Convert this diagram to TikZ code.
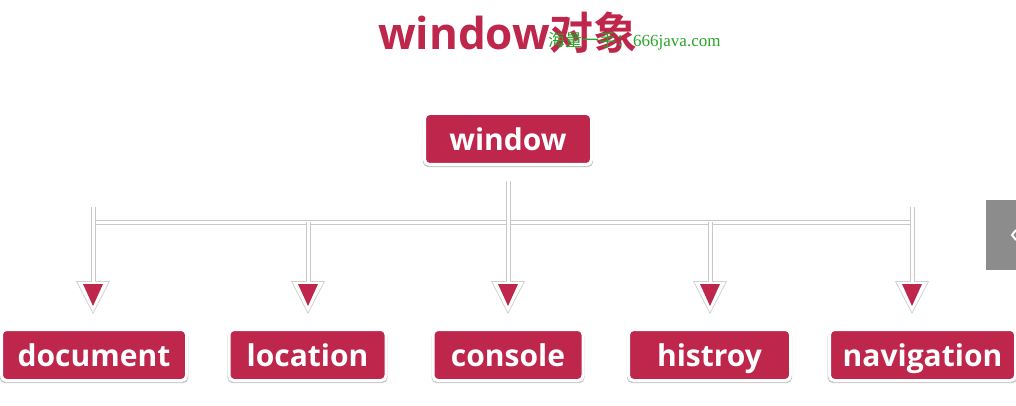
\documentclass[tikz,border=0pt]{standalone}
\usepackage{fontspec}
\setmainfont{Open Sans}
\newfontfamily\cjkfont{Noto Sans CJK SC}[BoldFont={Noto Sans CJK SC Bold}]
\newfontfamily\markfont{Liberation Serif}
\usetikzlibrary{arrows.meta, positioning, shadows}
\definecolor{winred}{RGB}{190,38,75}
\definecolor{railgray}{RGB}{200,200,200}
\definecolor{markgreen}{RGB}{40,165,40}
\definecolor{tabgray}{RGB}{140,140,140}

\begin{document}
\begin{tikzpicture}[
    x=1pt, y=-1pt,
    objbox/.style={rectangle, fill=winred, draw=white, line width=3pt, rounded corners=5pt,
        text=white, font=\fontsize{30}{32}\selectfont\bfseries, inner sep=0pt,
        minimum width=#1, minimum height=51pt, text height=23pt, text depth=0pt,
        drop shadow={shadow xshift=0pt, shadow yshift=-2pt, shadow scale=1.02, fill=black, opacity=0.22}},
    rail/.style={draw=railgray, line width=1pt, double=white, double distance=3pt},
    tipback/.style={draw=white, line width=3pt, shorten >=14pt,
        -{Triangle[width=34pt, length=33pt, fill=white, color=black!18, line width=0.8pt]}},
    tip/.style={draw=white, line width=3pt, shorten >=22pt,
        -{Triangle[width=20pt, length=22pt, fill=winred, color=winred, line width=0pt]}},
]
    \useasboundingbox (0,0) rectangle (1016,406);

    % title and mark
    \node[anchor=base, inner sep=0pt, text=winred, font=\fontsize{44}{44}\selectfont\bfseries] (title) at (508,50) {window{\cjkfont 对象}};
    \node[anchor=base west, inner sep=0pt, text=markgreen, font=\fontsize{17}{17}\selectfont] (mark) at (548,47) {{\cjkfont 海量一手：}\markfont 666java.com};

    % objects
    \node[objbox=167pt] (win) at (508,139) {window};
    \node[objbox=185pt] (doc) at (94,355) {document};
    \node[objbox=157pt] (loc) at (307.5,355) {location};
    \node[objbox=150pt] (con) at (508,355) {console};
    \node[objbox=162pt] (his) at (709.5,355) {histroy};
    \node[objbox=186pt] (nav) at (922.5,355) {navigation};

    % bus
    \coordinate (bus-1) at (93,222);
    \coordinate (bus-2) at (308,222);
    \coordinate (bus-3) at (508,222);
    \coordinate (bus-4) at (710,222);
    \coordinate (bus-5) at (912,222);
    \coordinate (cap-1) at (93,207);
    \coordinate (cap-5) at (912,207);

    \draw[rail] (bus-1) -- (bus-5);
    \draw[rail, shorten >=45pt] (cap-1) -- (cap-1 |- doc.north);
    \draw[rail, shorten >=45pt] (bus-2) -- (bus-2 |- loc.north);
    \draw[rail, shorten <=15pt, shorten >=45pt] (win.south) -- (win.south |- con.north);
    \draw[rail, shorten >=45pt] (bus-4) -- (bus-4 |- his.north);
    \draw[rail, shorten >=45pt] (cap-5) -- (cap-5 |- nav.north);

    \foreach \k/\obj in {1/doc, 2/loc, 3/con, 4/his, 5/nav} {
        \draw[tipback] (bus-\k) -- (bus-\k |- \obj.north);
        \draw[tip] (bus-\k) -- (bus-\k |- \obj.north);
    }

    % side tab
    \node[anchor=north west, fill=tabgray, inner sep=0pt, minimum width=30pt, minimum height=70pt] (tab) at (986,200) {};
    \draw[white, line width=2pt] (1016,230) -- (1012,235) -- (1016,240);
\end{tikzpicture}
\end{document}
